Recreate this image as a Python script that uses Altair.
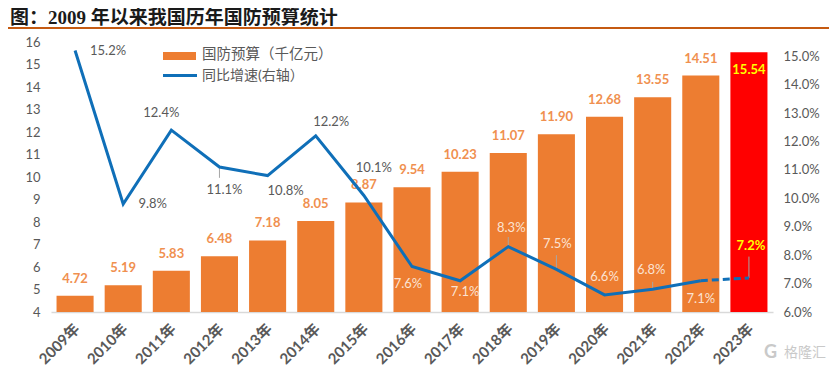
import altair as alt
import pandas as pd

years = ["2009年","2010年","2011年","2012年","2013年","2014年","2015年","2016年",
         "2017年","2018年","2019年","2020年","2021年","2022年","2023年"]
budget = [4.72,5.19,5.83,6.48,7.18,8.05,8.87,9.54,10.23,11.07,11.90,12.68,13.55,14.51,15.54]
growth = [.152,.098,.124,.111,.108,.122,.101,.076,.071,.083,.075,.066,.068,.071,.072]
leader_end = {"2012年":.1072,"2018年":.0864,"2019年":.080,"2021年":.0706,"2023年":.0795}
left_ticks = list(range(4,17))
right_ticks = [.06,.07,.08,.09,.10,.11,.12,.13,.14,.15]
title_text = "图：2009 年以来我国历年国防预算统计"
legend_bar = "国防预算（千亿元）"
legend_line = "同比增速(右轴）"

# label offsets from each point, in pixels (dx, dy)
line_label_offsets = [(33,0),(29.5,0),(-10,-17),(5,23),(18,15),(15.5,-14),(10,-27),(-4,17),
                      (5,11),(3,-19),(1,-25),(0,-18),(-1.5,-19),(0,18),(2,-32)]
light_from = 7  # line labels from this index on sit over the bars

CJK = "Lato, Noto Sans CJK SC"
GRAY = "#595959"
df = pd.DataFrame({"year":years,"budget":budget,"growth":growth})

X = alt.X("year:N", sort=years, title=None,
          scale=alt.Scale(paddingInner=.23, paddingOuter=.115),
          axis=alt.Axis(labelAngle=-45, labelFontSize=15, labelFontWeight="bold", labelColor=GRAY,
                        labelFont=CJK, ticks=False, domainColor="#d9d9d9", domainWidth=1.5,
                        labelPadding=9, labelOffset=-3, labelOverlap=False, grid=False))
YL = alt.Y("budget:Q", title=None,
           scale=alt.Scale(domain=[4,16], nice=False, zero=False),
           axis=alt.Axis(values=left_ticks, tickCount=13, ticks=False, domain=False, grid=False,
                         labelColor=GRAY, labelFontSize=13, labelFont="Lato", labelPadding=11))
YR = alt.Y("growth:Q", title=None,
           scale=alt.Scale(domain=[.06,.155], nice=False, zero=False),
           axis=alt.Axis(orient="right", values=right_ticks, format=".1%", ticks=False, domain=False,
                         grid=False, labelColor=GRAY, labelFontSize=13, labelFont="Lato", labelPadding=10))

base = alt.Chart(df)
is_last = f"datum.year == '{years[-1]}'"
bars = base.mark_bar().encode(
    x=X, y=YL, y2=alt.Y2(datum=4),
    color=alt.condition(is_last, alt.value("#FF0000"), alt.value("#ED7D31")))
bar_labels = base.transform_filter("!(" + is_last + ")").mark_text(
    dy=-17, font="Lato", fontWeight="bold", fontSize=13, color="#F0904F").encode(
    x=X, y=YL, text=alt.Text("budget:Q", format=".2f"))
last_label = base.transform_filter(is_last).mark_text(
    dy=18, font="Lato", fontWeight="bold", fontSize=13, color="#FFFF00").encode(
    x=X, y=YL, text=alt.Text("budget:Q", format=".2f"))
left = alt.layer(bars, bar_labels, last_label)

solid = alt.Chart(df.iloc[:14]).mark_line(color="#0F6FB8", strokeWidth=3).encode(x=X, y=YR)
dashed = alt.Chart(df.iloc[13:]).mark_line(color="#0F6FB8", strokeWidth=3, strokeDash=[7,4]).encode(x=X, y=YR)
leader_df = pd.DataFrame({"year":list(leader_end), "end":list(leader_end.values())})
leader_df["growth"] = [growth[years.index(y)] for y in leader_df["year"]]
leaders = alt.Chart(leader_df).mark_rule(color="#A6A6A6", strokeWidth=1).encode(
    x=X, y=YR, y2=alt.Y2("end:Q"))

line_layers = [leaders, solid, dashed]
for i, (dx, dy) in enumerate(line_label_offsets):
    last = i == len(years)-1
    color = "#FFFF00" if last else ("#FBE3D4" if i >= light_from else GRAY)
    line_layers.append(
        alt.Chart(df.iloc[[i]]).mark_text(
            dx=dx, dy=dy, font="Lato", fontSize=13, color=color,
            fontWeight="bold" if last else "normal").encode(
            x=X, y=YR, text=alt.Text("growth:Q", format=".1%")))
right = alt.layer(*line_layers)

# Header band, legend and watermark, placed in pixels from the plot origin
dummy = alt.Chart(pd.DataFrame({"a":[0]}))
top_rule = dummy.mark_rule(color="#C55A11", strokeWidth=2).encode(
    x=alt.value(-51), x2=alt.value(786), y=alt.value(-14))
title = dummy.mark_text(align="left", baseline="middle", font="Liberation Serif, Noto Sans CJK SC",
                        fontWeight="bold", fontSize=19, color="#1A1A1A").encode(
    x=alt.value(-41), y=alt.value(-24.5), text=alt.value(title_text))
swatch = dummy.mark_rect(color="#ED7D31").encode(
    x=alt.value(112), x2=alt.value(145), y=alt.value(10), y2=alt.value(18))
swatch_line = dummy.mark_rule(color="#0F6FB8", strokeWidth=3).encode(
    x=alt.value(112), x2=alt.value(146), y=alt.value(33.5))
leg1 = dummy.mark_text(align="left", baseline="middle", font=CJK, fontSize=14.5, color=GRAY).encode(
    x=alt.value(151), y=alt.value(13), text=alt.value(legend_bar))
leg2 = dummy.mark_text(align="left", baseline="middle", font=CJK, fontSize=14, color=GRAY).encode(
    x=alt.value(151), y=alt.value(34), text=alt.value(legend_line))
wm = dummy.mark_text(align="left", baseline="middle", font="Noto Sans CJK SC", fontSize=14, color="#C9C9C9").encode(
    x=alt.value(733), y=alt.value(311), text=alt.value("格隆汇"))
wm_logo = dummy.mark_text(align="left", baseline="middle", font="Lato", fontWeight="bold", fontSize=18, color="#C9C9C9").encode(
    x=alt.value(713), y=alt.value(311), text=alt.value("G"))
deco = alt.layer(top_rule, title, swatch, swatch_line, leg1, leg2, wm_logo, wm)

chart = alt.layer(left, right, deco).resolve_scale(y="independent").properties(
    width=722, height=270,
    padding={"left":43,"top":34,"right":56,"bottom":57},
    autosize=alt.AutoSizeParams(type="none"),
    background="white",
).configure_view(stroke=None)

chart.save("out.html", embed_options={"renderer":"svg","actions":False})
